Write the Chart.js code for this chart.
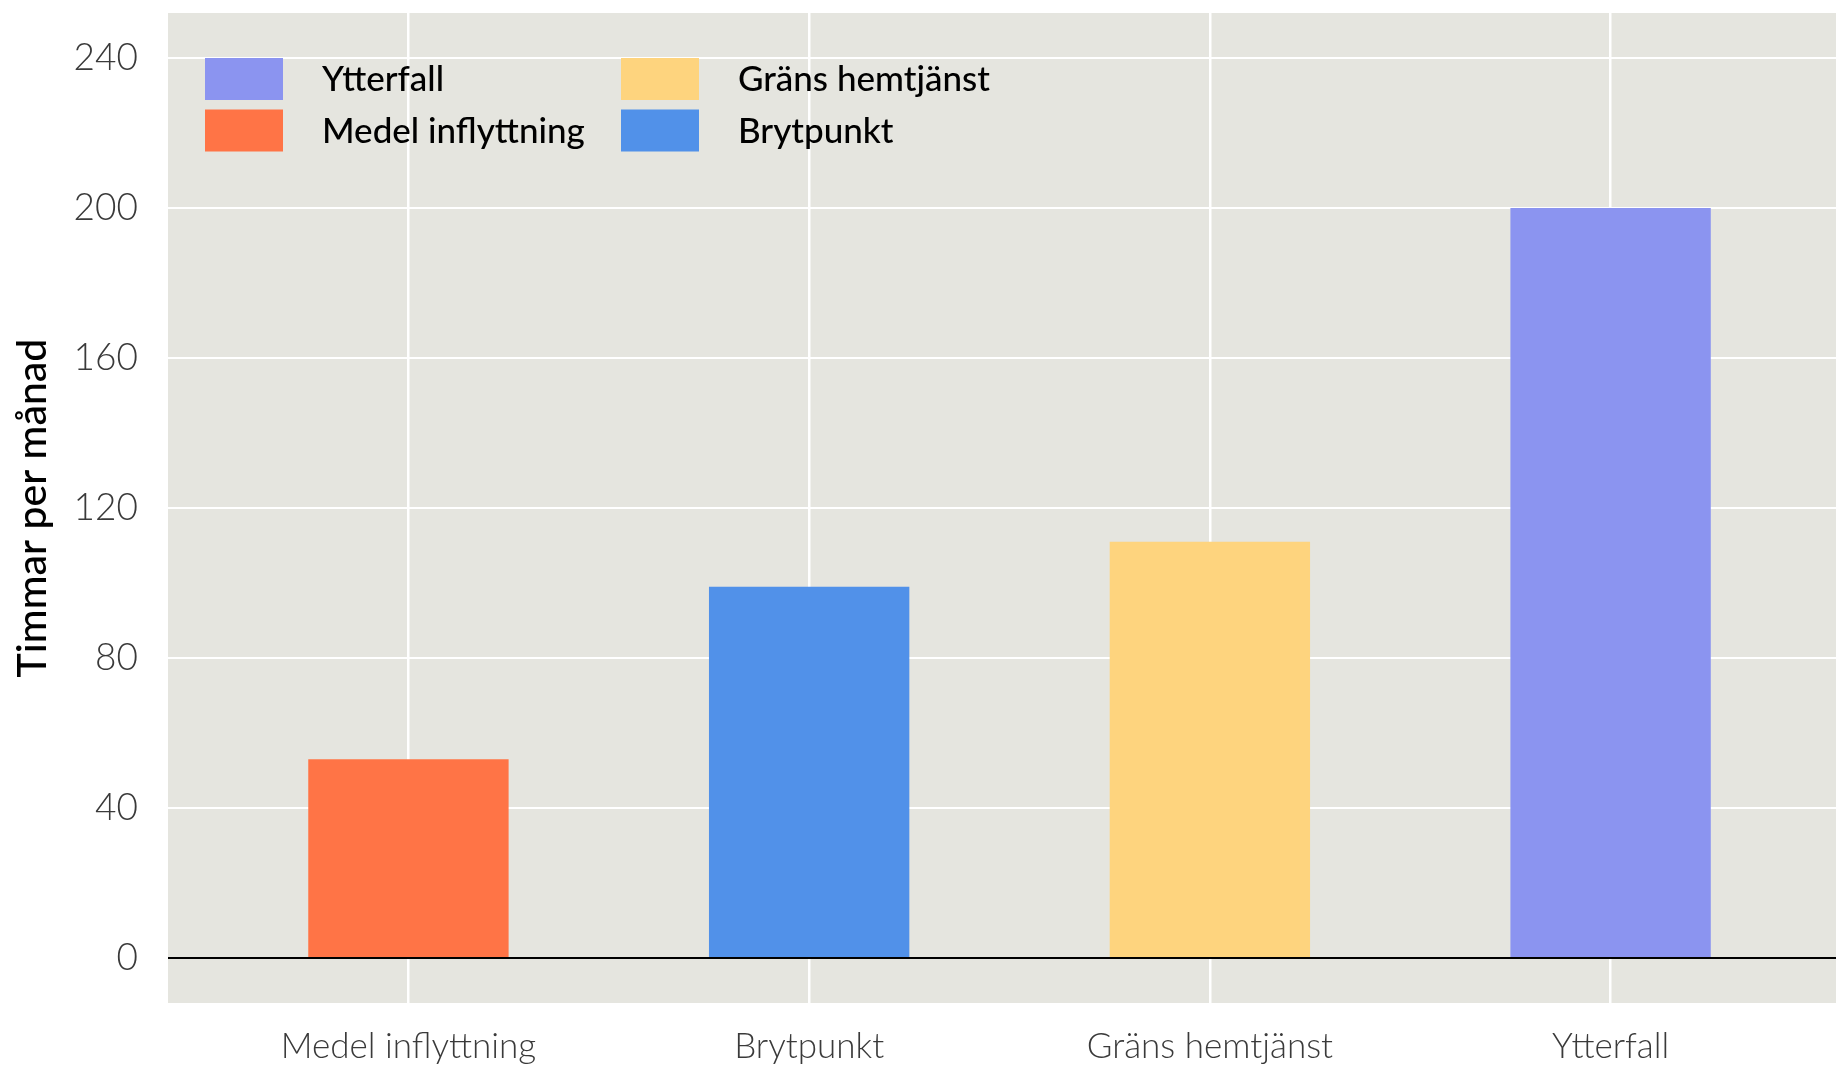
<!DOCTYPE html>
<html><head><meta charset="utf-8">
<script src="https://cdn.jsdelivr.net/npm/chart.js@4/dist/chart.umd.min.js"></script>
<style>html,body{margin:0;padding:0;background:#fff;overflow:hidden}#wrap{width:1836px;height:1067px}</style>
</head><body><div id="wrap"><canvas id="c" width="1836" height="1067"></canvas></div>
<script>
const categories = ['Medel inflyttning', 'Brytpunkt', 'Gräns hemtjänst', 'Ytterfall'];
const hours = [53, 99, 111, 200];
const barColors = ['#FF7446', '#5191E9', '#FED47E', '#8B94F0'];
const yTicks = [0, 40, 80, 120, 160, 200, 240];
const legendOrder = ['Ytterfall', 'Medel inflyttning', 'Gräns hemtjänst', 'Brytpunkt'];
const yTitle = 'Timmar per månad';

const PANEL = '#E5E5DF';
const FONT = 'Lato';

const panelBg = {
  id: 'panelBg',
  beforeDraw(chart) {
    const { ctx, chartArea: a } = chart;
    ctx.save();
    ctx.fillStyle = PANEL;
    ctx.fillRect(a.left, a.top, a.right - a.left, a.bottom - a.top);
    ctx.restore();
  }
};

const zeroLine = {
  id: 'zeroLine',
  afterDatasetsDraw(chart) {
    const { ctx, chartArea: a, scales } = chart;
    const y = scales.y.getPixelForValue(0);
    ctx.save();
    ctx.strokeStyle = '#000';
    ctx.lineWidth = 2.2;
    ctx.beginPath();
    ctx.moveTo(a.left, y);
    ctx.lineTo(a.right, y);
    ctx.stroke();
    ctx.restore();
  }
};

const insideLegend = {
  id: 'insideLegend',
  afterDraw(chart) {
    const { ctx, chartArea: a } = chart;
    const rows = 2;
    const colX = [a.left + 37, a.left + 453];
    const rowY = [a.top + 45, a.top + 96.5];
    const sw = 78, sh = 42, gap = 39;
    ctx.save();
    ctx.font = '500 35px ' + FONT;
    ctx.textBaseline = 'middle';
    ctx.textAlign = 'left';
    legendOrder.forEach((name, i) => {
      const col = Math.floor(i / rows), row = i % rows;
      const x = colX[col], y = rowY[row];
      ctx.fillStyle = barColors[categories.indexOf(name)];
      ctx.fillRect(x, y, sw, sh);
      ctx.fillStyle = '#000';
      ctx.fillText(name, x + sw + gap, y + sh / 2 + 1);
    });
    ctx.restore();
  }
};

function draw() {
  new Chart(document.getElementById('c'), {
    type: 'bar',
    data: {
      datasets: [{
        data: categories.map((c, i) => ({ x: i, y: hours[i] })),
        backgroundColor: barColors,
        borderWidth: 0,
        categoryPercentage: 1,
        barPercentage: 0.5
      }]
    },
    options: {
      responsive: false,
      devicePixelRatio: 1,
      animation: false,
      layout: { padding: { top: 13, left: 0, right: 0, bottom: 0 } },
      plugins: { legend: { display: false }, tooltip: { enabled: false } },
      scales: {
        x: {
          type: 'linear',
          min: -0.6,
          max: 3.5625,
          offset: false,
          border: { display: false },
          grid: { color: '#FFFFFF', lineWidth: 2.5, drawTicks: false, offset: false },
          ticks: {
            padding: 23,
            color: '#3A3A3A',
            font: { family: FONT, size: 35, weight: 300 },
            maxRotation: 0,
            autoSkip: false,
            callback: v => categories[v] ?? ''
          },
          afterBuildTicks: s => { s.ticks = categories.map((_, i) => ({ value: i })); },
          afterFit: s => { s.height = 64; s.paddingLeft = 0; s.paddingRight = 0; }
        },
        y: {
          min: -12,
          max: 252,
          border: { display: false },
          grid: { color: '#FFFFFF', lineWidth: 2, drawTicks: false },
          ticks: {
            padding: 30,
            color: '#3A3A3A',
            font: { family: FONT, size: 37, weight: 300 }
          },
          afterBuildTicks: s => { s.ticks = yTicks.map(v => ({ value: v })); },
          afterFit: s => { s.width = 168; s.paddingTop = 0; s.paddingBottom = 0; },
          title: {
            display: true,
            text: yTitle,
            color: '#000',
            font: { family: FONT, size: 41, weight: 500 },
            padding: { top: 8, bottom: 0 }
          }
        }
      }
    },
    plugins: [panelBg, zeroLine, insideLegend]
  });
}

Promise.all([
  document.fonts.load('300 35px Lato'),
  document.fonts.load('500 35px Lato')
]).then(draw, draw);
</script>
</body></html>
